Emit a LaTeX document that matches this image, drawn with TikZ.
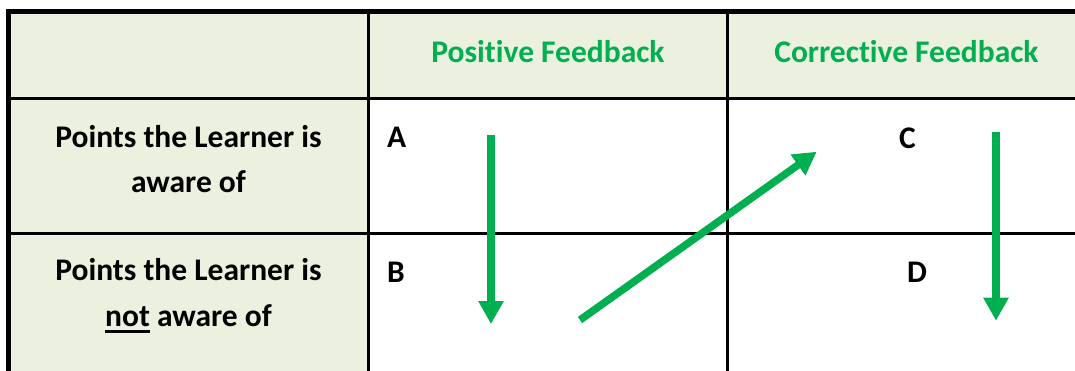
\documentclass[tikz,border=0pt]{standalone}
\usepackage{fontspec}
\setmainfont{Carlito}[Ligatures=NoCommon]
\usepackage[svgnames]{xcolor}
\usetikzlibrary{positioning, arrows.meta, calc}
\definecolor{headgreen}{HTML}{EBF1DE}
\definecolor{fbgreen}{HTML}{00B050}
\newcommand{\undl}[1]{\vtop{\hbox{#1}\kern4pt\hrule height 2.5pt}}
\def\tabgrid{%
    \def\lft{8.5}
    \def\rgt{1090}
    \def\tp{358}
    \def\bt{-10}

    % fills
    \fill[headgreen] (\lft,\tp) rectangle (\rgt,271);
    \fill[headgreen] (\lft,271) rectangle (368.5,\bt);

    % draw vertical lines
    \foreach \x in {368.5, 727.5}
    {
        \draw[black, line width=3pt] (\x, \tp) -- (\x, \bt);
    }

    % draw horizontal lines
    \foreach \y in {271, 136.5}
    {
        \draw[black, line width=3pt] (\lft, \y) -- (\rgt, \y);
    }

    % border
    \draw[black, line width=5pt] (\lft, \bt) -- (\lft, \tp) -- (\rgt, \tp);
}

\begin{document}
\begin{tikzpicture}[x=1pt, y=1pt, baseline=0,
    headtext/.style={font=\bfseries\fontsize{31.5}{36}\selectfont, text=fbgreen, inner sep=0, anchor=base},
    rowtext/.style={font=\bfseries\fontsize{31.5}{45.5}\selectfont, align=center, inner sep=0, anchor=base},
    cellmark/.style={font=\bfseries\fontsize{31.5}{36}\selectfont, inner sep=0, anchor=base west},
    fbarrow/.style={fbgreen, line width=7.5pt, -{Triangle[width=24pt, length=23pt]}}]
            \useasboundingbox (0,0) rectangle (1075,370);
            \tabgrid

            \node[headtext] (pos) at (548,307.5) {Positive Feedback};
            \node[headtext] (cor) at (906.5,307.5) {Corrective Feedback};
            \node[rowtext] (aware) at (188.5,177.3) {Points the Learner is\\aware of};
            \node[rowtext] (notaware) at (188.5,44) {Points the Learner is\\\undl{not} aware of};

            \foreach \name/\x/\y/\txt in {
                a/387/222.3/A,
                b/387/88/B,
                c/899/222/C,
                d/907/88/D}{
                \node[cellmark] (\name) at (\x,\y) {\txt};
            }

            \coordinate (a from) at (491,235);
            \coordinate (a to) at (491,46);
            \coordinate (b from) at (580,50);
            \coordinate (b to) at (816.7,218.3);
            \coordinate (c from) at (996,238.3);
            \coordinate (c to) at (996,49.3);

            \foreach \p in {a, b, c}{
                \draw[fbarrow] (\p\space from) -- (\p\space to);
            }
        \end{tikzpicture}
\end{document}
